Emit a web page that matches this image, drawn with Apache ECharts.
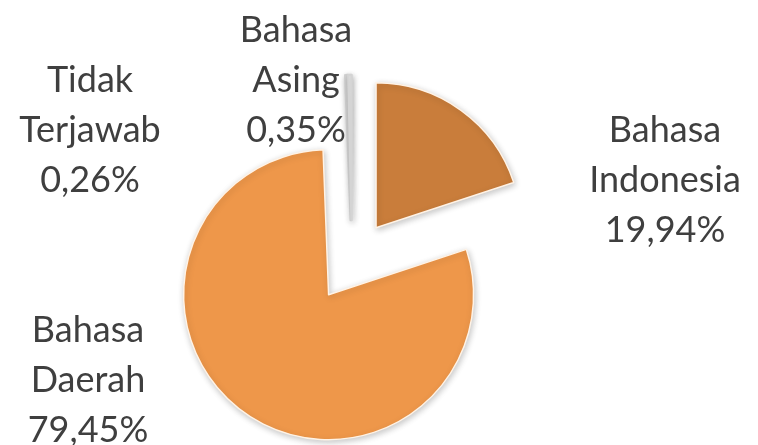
<!DOCTYPE html>
<html>
<head>
<meta charset="utf-8">
<script src="https://cdn.jsdelivr.net/npm/echarts@6/dist/echarts.min.js"></script>
<style>
html,body{margin:0;padding:0;background:#fff;}
#chart{width:758px;height:445px;}
</style>
</head>
<body>
<div id="chart"></div>
<script>
// Data
const categories = ['Bahasa Indonesia', 'Bahasa Daerah', 'Tidak Terjawab', 'Bahasa Asing'];
const values = [19.94, 79.45, 0.26, 0.35];

// Styles (not data)
const sliceColors = ['#C97D3B', '#EE974A', '#F5F5F5', '#F5F5F5'];
const sliceBorders = ['#FFF3E6', '#FFF3E6', '#D4D4D4', '#D4D4D4'];
const sliceBorderW = [1.5, 1.5, 2.5, 2.5];
const labelPos = [[665, 180], [88, 380], [90, 130], [296, 80]];
const pieCenter = [352, 261];
const pieRadius = 145;
const explode = 41;
const startAngle = 90;

const chart = echarts.init(document.getElementById('chart'), null, {renderer: 'canvas'});

const total = values.reduce((a, b) => a + b, 0);
let cum = 0;
const series = categories.map((name, owner) => {
  const mid = startAngle - (cum + values[owner] / 2) / total * 360;
  cum += values[owner];
  const rad = mid * Math.PI / 180;
  const cx = pieCenter[0] + explode * Math.cos(rad);
  const cy = pieCenter[1] - explode * Math.sin(rad);
  return {
    type: 'pie',
    center: [cx, cy],
    radius: pieRadius,
    startAngle: startAngle,
    clockwise: true,
    avoidLabelOverlap: false,
    emphasis: {disabled: true, scale: false},
    labelLine: {show: false},
    labelLayout: function () {
      const pos = labelPos[owner];
      return {x: pos[0], y: pos[1], align: 'center', verticalAlign: 'middle'};
    },
    z: owner >= 2 ? 3 : 2,
    data: categories.map((n, i) => {
      const own = i === owner;
      return {
        name: n,
        value: values[i],
        itemStyle: own ? {
          color: sliceColors[i],
          borderColor: sliceBorders[i],
          borderWidth: sliceBorderW[i],
          shadowBlur: 6,
          shadowOffsetX: 1,
          shadowOffsetY: 2,
          shadowColor: 'rgba(0,0,0,0.22)'
        } : {color: 'rgba(0,0,0,0)', borderWidth: 0, shadowBlur: 0},
        label: own ? {
          show: true,
          position: 'outside',
          fontFamily: 'Lato',
          fontSize: 36,
          lineHeight: 50,
          color: '#3f3f3f',
          align: 'center',
          formatter: function (p) {
            return p.name.replace(' ', '\n') + '\n' + p.value.toFixed(2).replace('.', ',') + '%';
          }
        } : {show: false}
      };
    })
  };
});

chart.setOption({
  animation: false,
  backgroundColor: '#ffffff',
  series: series
});
</script>
</body>
</html>
